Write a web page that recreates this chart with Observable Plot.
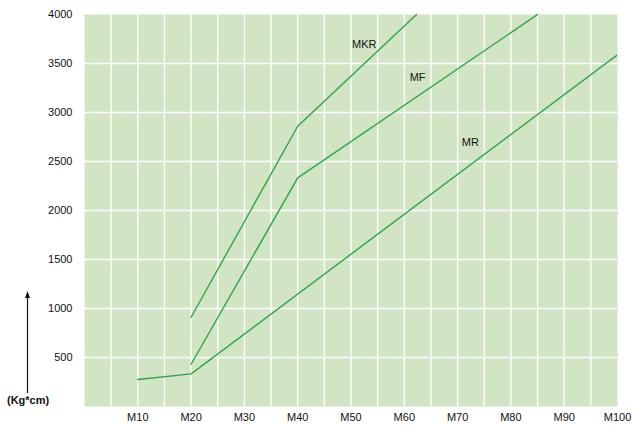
<!DOCTYPE html>
<html>
<head>
<meta charset="utf-8">
<script src="https://cdn.jsdelivr.net/npm/d3@7"></script>
<script src="https://cdn.jsdelivr.net/npm/@observablehq/plot@0.6"></script>
<style>
  body { margin: 0; background: #fff; font-family: "Liberation Sans", Arial, sans-serif; }
  #wrap { position: relative; width: 632px; height: 425px; }
  #ylab { position: absolute; left: 7px; top: 394px; font-size: 11px; font-weight: bold; color: #111; }
  #arrow { position: absolute; left: 0; top: 0; }
</style>
</head>
<body>
<div id="wrap">
  <svg id="arrow" width="60" height="425"><line x1="27.5" y1="393" x2="27.5" y2="296" stroke="#111" stroke-width="1.2"/><path d="M27.5,291 L25,298 L30,298 Z" fill="#111"/></svg>
  <div id="ylab">(Kg*cm)</div>
</div>
<script>
// Series: x = size (M number), y = torque (Kg*cm)
const mrX = [10, 20, 100];
const mrY = [275, 333, 3590];
const mfX = [20, 40, 85];
const mfY = [431, 2333, 4000];
const mkrX = [20, 40, 62.3];
const mkrY = [911, 2860, 4000];

const seriesNames = ["MKR", "MF", "MR"];
const labelX = [52.5, 62.5, 72.4];
const labelY = [3690, 3360, 2690];

const xTicks = [10, 20, 30, 40, 50, 60, 70, 80, 90, 100];
const xTickLabels = ["M10", "M20", "M30", "M40", "M50", "M60", "M70", "M80", "M90", "M100"];
const yTicks = [500, 1000, 1500, 2000, 2500, 3000, 3500, 4000];
const xGrid = [5, 10, 15, 20, 25, 30, 35, 40, 45, 50, 55, 60, 65, 70, 75, 80, 85, 90, 95];
const yGrid = [500, 1000, 1500, 2000, 2500, 3000, 3500];

const toRows = (name, xs, ys) => xs.map((x, i) => ({ name, x, y: ys[i] }));
const lines = [
  ...toRows("MR", mrX, mrY),
  ...toRows("MF", mfX, mfY),
  ...toRows("MKR", mkrX, mkrY)
];
const labels = seriesNames.map((n, i) => ({ name: n, x: labelX[i], y: labelY[i] }));

const lineColor = "#2fa548";

const chart = Plot.plot({
  width: 632,
  height: 425,
  marginLeft: 84,
  marginRight: 15,
  marginTop: 14,
  marginBottom: 19,
  style: { fontFamily: "Liberation Sans, Arial, sans-serif", fontSize: "11px", color: "#111", background: "transparent" },
  x: { domain: [0, 100], label: null },
  y: { domain: [0, 4000], label: null },
  marks: [
    Plot.frame({ fill: "#d1e5c5", stroke: null }),
    Plot.gridX(xGrid, { stroke: "#fff", strokeOpacity: 1, strokeWidth: 1.3 }),
    Plot.gridY(yGrid, { stroke: "#fff", strokeOpacity: 1, strokeWidth: 1.3 }),
    Plot.axisX(xTicks, { tickSize: 0, tickPadding: 7, tickFormat: (d) => xTickLabels[xTicks.indexOf(d)], fontSize: 11 }),
    Plot.axisY(yTicks, { tickSize: 0, tickPadding: 12, tickFormat: (d) => String(d), fontSize: 11 }),
    Plot.line(lines, { x: "x", y: "y", z: "name", stroke: lineColor, strokeWidth: 1.4, clip: true }),
    Plot.text(labels, { x: "x", y: "y", text: "name", fontSize: 11, fill: "#111" })
  ]
});
document.getElementById("wrap").appendChild(chart);
chart.style.position = "absolute";
chart.style.left = "0";
chart.style.top = "0";
</script>
</body>
</html>
